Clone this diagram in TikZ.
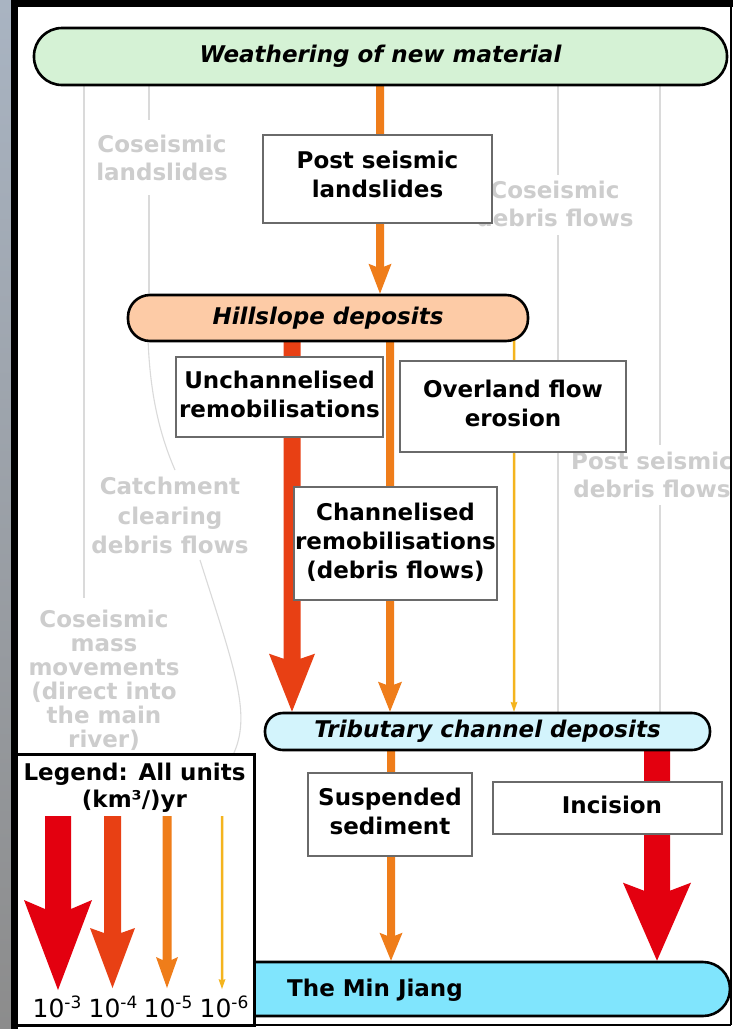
\documentclass[tikz,border=0pt]{standalone}
\usepackage{fontspec}
\setmainfont{DejaVu Sans}
\usetikzlibrary{calc}

\definecolor{flowred}{HTML}{E3000F}
\definecolor{flowvermilion}{HTML}{E84014}
\definecolor{floworange}{HTML}{EF7D1A}
\definecolor{flowyellow}{HTML}{F4B41E}
\definecolor{weathergreen}{HTML}{D5F2D5}
\definecolor{hillpeach}{HTML}{FDCBA6}
\definecolor{tribcyan}{HTML}{D3F4FC}
\definecolor{rivercyan}{HTML}{80E5FD}
\definecolor{ghostgray}{HTML}{CDCDCD}
\definecolor{guidegray}{HTML}{DADADA}
\definecolor{boxgray}{HTML}{6A6A6A}
\definecolor{stripblue}{HTML}{A9B4C2}
\definecolor{stripgray}{HTML}{8C8C8C}

\pgfdeclarelayer{base}
\pgfdeclarelayer{flows}
\pgfsetlayers{base,flows,main}

% Flux arrow with a notched head:
% #1 colour, #2 start, #3 tip, #4 shaft width, #5 head width, #6 head length, #7 notch depth
\newcommand\flowarrow[7]{%
  \fill[#1] ($(#2)+(-#4/2,0)$) -- ($(#2)+(#4/2,0)$)
    -- ($(#3)+(#4/2,-#6+#7)$) -- ($(#3)+(#5/2,-#6)$) -- (#3)
    -- ($(#3)+(-#5/2,-#6)$) -- ($(#3)+(-#4/2,-#6+#7)$) -- cycle;}

% Power-of-ten scale label
\newcommand\tenpow[1]{10\raisebox{9pt}{\fontsize{17}{17}\selectfont #1}}

\begin{document}
\begin{tikzpicture}[x=1pt,y=-1pt,
  every node/.style={font=\fontsize{23}{29}\selectfont\bfseries, inner sep=0pt},
  pill/.style={draw=black, line width=2.6pt, align=center},
  procbox/.style={draw=boxgray, line width=1.3pt, fill=white, align=center, text depth=6pt},
  ghost/.style={text=ghostgray, align=center, font=\fontsize{23}{28}\selectfont\bfseries},
  guide/.style={draw=guidegray, line width=1.1pt},
  scalelabel/.style={font=\fontsize{25}{29}\selectfont, anchor=base}]

\useasboundingbox (0,0) rectangle (733,1029);

% ---------- background: page, guides and faint source labels ----------
\begin{pgfonlayer}{base}
  \fill[top color=stripblue, bottom color=stripgray] (0,0) rectangle (12,1029);
  \fill[white] (12,0) rectangle (733,1029);

  \draw[guide] (84,85) -- (84,598);
  \draw[guide] (149,85) -- (149,120);
  \draw[guide] (149,195) -- (149,296);
  \draw[guide] (558,85) -- (558,175);
  \draw[guide] (558,235) -- (558,713);
  \draw[guide] (660,85) -- (660,445);
  \draw[guide] (660,505) -- (660,713);
  \draw[guide] (148,338) .. controls (150,400) and (162,440) .. (175,470);
  \draw[guide] (200,560) .. controls (235,670) and (252,715) .. (233,755);

  \node[ghost] (coland) at (162,158) {Coseismic\\landslides};
  \node[ghost] (codeb) at (555,204) {Coseismic\\debris flows};
  \node[ghost] (postdeb) at (652,475) {Post seismic\\debris flows};
  \node[ghost, font=\fontsize{23}{29.5}\selectfont\bfseries] (catch) at (170,515.5) {Catchment\\clearing\\debris flows};
  \node[ghost, font=\fontsize{23}{24}\selectfont\bfseries] (comass) at (104,680) {Coseismic\\mass\\movements\\(direct into\\the main\\river)};
\end{pgfonlayer}

% ---------- reservoirs and processes ----------
\node[pill, fill=weathergreen, rounded corners=28pt, minimum width=693pt, minimum height=57pt]
  (weather) at (380.5,56.5) {\itshape Weathering of new material};
\node[procbox, text depth=10pt, minimum width=229pt, minimum height=88pt] (postls) at (377.5,179) {Post seismic\\landslides};
\node[pill, fill=hillpeach, rounded corners=22pt, minimum width=400pt, minimum height=46pt]
  (hill) at (328,318) {\itshape Hillslope deposits};
\node[procbox, minimum width=207pt, minimum height=80pt] (unch) at (279.5,397) {Unchannelised\\remobilisations};
\node[procbox, minimum width=226pt, minimum height=91pt] (overland) at (513,406.5) {Overland flow\\erosion};
\node[procbox, minimum width=203pt, minimum height=113pt] (chan) at (395.5,543.5) {Channelised\\remobilisations\\(debris flows)};
\node[pill, fill=tribcyan, rounded corners=18pt, minimum width=445pt, minimum height=37pt]
  (trib) at (487.5,731.5) {\itshape Tributary channel deposits};
\node[procbox, minimum width=164pt, minimum height=83pt] (susp) at (390,814.5) {Suspended\\sediment};
\node[procbox, minimum width=229pt, minimum height=52pt] (incis) at (607.5,808) {\hspace{9pt}Incision};
\node[pill, fill=rivercyan, rounded corners=27pt, minimum width=530pt, minimum height=54pt]
  (river) at (465,989) {};
\node[anchor=west] (riverlabel) at (287,990) {The Min Jiang};

% ---------- sediment fluxes ----------
\begin{pgfonlayer}{flows}
  \flowarrow{floworange}{weather.center -| 380,0}{hill.north -| 380,0}{8}{23}{30}{3}
  \flowarrow{flowvermilion}{hill.center -| 292,0}{trib.north -| 292,0}{17}{46}{58}{5}
  \flowarrow{floworange}{hill.center -| 390,0}{trib.north -| 390,0}{8}{24}{30}{3}
  \flowarrow{flowyellow}{hill.center -| 514,0}{trib.north -| 514,0}{2.5}{7}{10}{1}
  \flowarrow{floworange}{trib.center -| 391,0}{river.north -| 391,0}{8}{23}{28}{3}
  \flowarrow{flowred}{trib.center -| 657,0}{river.north -| 657,0}{26}{68}{78}{8}
\end{pgfonlayer}

% ---------- legend ----------
\node[draw=black, fill=white, line width=3pt, minimum width=239pt, minimum height=271pt]
  (legend) at (134.5,889.5) {};
\node[align=center, font=\fontsize{23}{27}\selectfont\bfseries] (legendtitle) at (134.5,788) {Legend: All units\\(km³/)yr};
\flowarrow{flowred}{58,816}{58,990}{26}{68}{90}{9}
\flowarrow{flowvermilion}{112.5,816}{112.5,988}{17}{45}{60}{5}
\flowarrow{floworange}{167,816}{167,988}{9}{22}{31}{3}
\flowarrow{flowyellow}{222,816}{222,989}{2.5}{7}{10}{1}
\node[scalelabel] (lab3) at (57,1017) {\tenpow{-3}};
\node[scalelabel] (lab4) at (113,1017) {\tenpow{-4}};
\node[scalelabel] (lab5) at (168,1017) {\tenpow{-5}};
\node[scalelabel] (lab6) at (224,1017) {\tenpow{-6}};

% ---------- frame ----------
\fill[black] (11,0) rectangle (733,7);
\fill[black] (11,0) rectangle (18,1029);
\draw[line width=1.6pt] (731,7) -- (731,1025);
\draw[line width=2pt] (18,1025) -- (731,1025);
\end{tikzpicture}
\end{document}
